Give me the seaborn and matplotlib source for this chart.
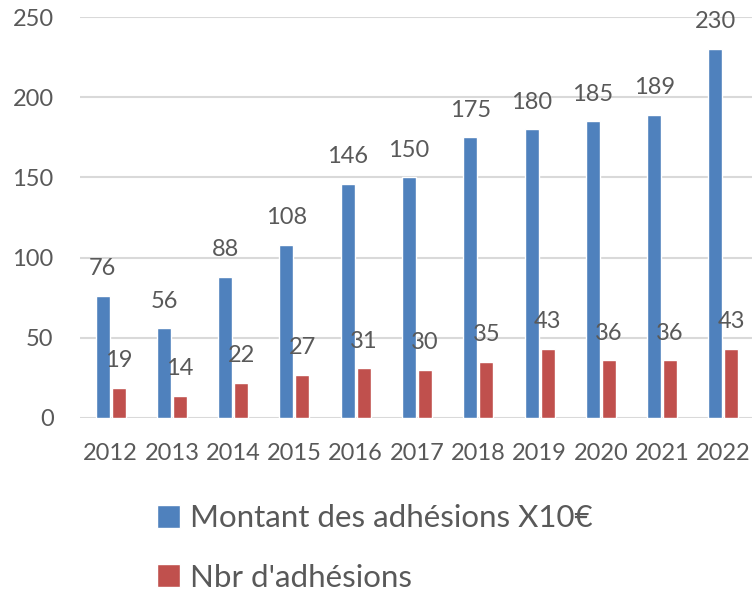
import pandas as pd
import matplotlib.pyplot as plt
import seaborn as sns

annees = ['2012', '2013', '2014', '2015', '2016', '2017', '2018', '2019', '2020', '2021', '2022']
montant = [76, 56, 88, 108, 146, 150, 175, 180, 185, 189, 230]
nbr = [19, 14, 22, 27, 31, 30, 35, 43, 36, 36, 43]
series = ["Montant des adhésions X10€", "Nbr d'adhésions"]
couleurs = ['#4F81BD', '#C0504D']

df = pd.DataFrame({
    'annee': annees * 2,
    'valeur': montant + nbr,
    'serie': [series[0]] * len(annees) + [series[1]] * len(annees),
})

sns.set_style('white')
plt.rcParams['font.family'] = ['Lato', 'DejaVu Sans']
gris = '#595959'

fig = plt.figure(figsize=(7.52, 5.93), dpi=100)
ax = fig.add_axes([80 / 752, 1 - 418 / 593, 674 / 752, (418 - 17) / 593])

sns.barplot(data=df, x='annee', y='valeur', hue='serie', palette=couleurs,
            saturation=1, width=0.52, gap=0.12, ax=ax, legend=True)

for c in ax.containers:
    ax.bar_label(c, padding=12, fontsize=17, color=gris)

ax.set_ylim(0, 250)
ax.set_yticks(range(0, 251, 50))
ax.set_xlim(-0.5, 10.5)
ax.yaxis.grid(True, color='#D9D9D9', linewidth=1.5)
ax.set_axisbelow(True)
for s in ax.spines.values():
    s.set_visible(False)
ax.tick_params(axis='both', length=0, labelsize=17, colors=gris)
ax.tick_params(axis='y', pad=19)
ax.tick_params(axis='x', pad=18)
ax.set_xlabel('')
ax.set_ylabel('')

handles, labels = ax.get_legend_handles_labels()
ax.legend_.remove()
leg = fig.legend(handles, labels, loc='center left', bbox_to_anchor=(157 / 752, 1 - 548 / 593),
                 frameon=False, ncol=1, fontsize=22.5, handlelength=0.75, handleheight=0.75,
                 handletextpad=0.3, labelspacing=1.0, borderpad=0, borderaxespad=0)
for t in leg.get_texts():
    t.set_color(gris)

fig.savefig('out.png', dpi=100)
